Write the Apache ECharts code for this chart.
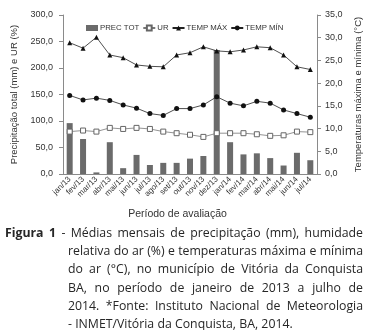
<!DOCTYPE html>
<html>
<head>
<meta charset="utf-8">
<script src="https://cdn.jsdelivr.net/npm/echarts@6/dist/echarts.min.js"></script>
<style>
  html, body { margin: 0; padding: 0; background: #fff; }
  #wrap { position: relative; width: 372px; height: 330px; overflow: hidden; }
  #chart { position: absolute; left: 0; top: 0; width: 372px; height: 330px; }
  #caption {
    position: absolute; left: 5px; top: 224px; width: 358px;
    font-family: "Open Sans", sans-serif; font-size: 12.3px; line-height: 18.2px;
    color: #262626;
  }
  #caption div { white-space: nowrap; text-align: justify; text-align-last: justify; padding-left: 63px; }
  #caption div.first { padding-left: 0; }
  #caption div.last { text-align-last: left; }
  #caption b { font-weight: 700; }
</style>
</head>
<body>
<div id="wrap">
  <div id="chart"></div>
  <div id="caption">
    <div class="first"><b>Figura 1</b> - Médias mensais de precipitação (mm), humidade</div>
    <div>relativa do ar (%) e temperaturas máxima e mínima</div>
    <div>do ar (°C), no município de Vitória da Conquista</div>
    <div>BA, no período de janeiro de 2013 a julho de</div>
    <div>2014. *Fonte: Instituto Nacional de Meteorologia</div>
    <div class="last">- INMET/Vitória da Conquista, BA, 2014.</div>
  </div>
</div>
<script>
// monthly series, jan/13 .. jul/14
const months = ["jan/13", "fev/13", "mar/13", "abr/13", "mai/13", "jun/13", "jul/13", "ago/13", "set/13", "out/13",
  "nov/13", "dez/13", "jan/14", "fev/14", "mar/14", "abr/14", "mai/14", "jun/14", "jul/14"];
const precTot = [96, 66, 3, 60, 11, 36, 17, 21, 21, 29, 34, 234, 60, 37, 39, 30, 16, 40, 26];
const ur = [80, 82, 80, 87, 85, 87, 85, 80, 77, 74, 70, 77, 77, 77, 75, 72, 73, 80, 79];
const tempMax = [28.9, 27.7, 30.1, 26.2, 25.6, 24.0, 23.7, 23.6, 26.2, 26.7, 28.0, 27.1, 26.9, 27.3, 28.0, 27.8, 26.2, 23.6, 23.0];
const tempMin = [17.3, 16.3, 16.7, 16.2, 15.2, 14.5, 13.3, 12.9, 14.4, 14.4, 15.2, 17.0, 15.6, 15.0, 16.0, 15.6, 14.1, 13.3, 12.5];

const chart = echarts.init(document.getElementById("chart"));

const axisColor = "#8a8a8a";
const textColor = "#333";
const font = "'Liberation Sans', Arial, sans-serif";
const fmt = (v) => v.toFixed(1).replace(".", ",");

chart.setOption({
  animation: false,
  textStyle: { fontFamily: font },
  grid: { left: 63, right: 55, top: 15, bottom: 156 },
  legend: {
    left: 81,
    top: 19,
    itemWidth: 12,
    itemHeight: 6,
    itemGap: 3,
    textStyle: { fontSize: 7.8, fontFamily: font, color: textColor, padding: [0, 0, 0, -3] },
    data: [
      { name: "PREC TOT", icon: "rect" },
      { name: "UR" },
      { name: "TEMP MÁX" },
      { name: "TEMP MÍN" },
    ],
  },
  xAxis: {
    type: "category",
    data: months,
    name: "Período de avaliação",
    nameLocation: "middle",
    nameGap: 35,
    nameTextStyle: { fontSize: 10.5, fontFamily: font, color: textColor, padding: [0, 25, 0, 0] },
    axisLine: { lineStyle: { color: axisColor } },
    axisTick: { length: 3, lineStyle: { color: axisColor } },
    axisLabel: { rotate: 45, fontSize: 8, fontFamily: font, color: textColor, margin: 4, interval: 0 },
  },
  yAxis: [
    {
      type: "value",
      min: 0,
      max: 300,
      interval: 50,
      name: "Precipitação total (mm) e UR (%)",
      nameLocation: "middle",
      nameGap: 41,
      nameTextStyle: { fontSize: 9.5, fontFamily: font, color: textColor },
      axisLine: { show: true, lineStyle: { color: axisColor } },
      axisTick: { show: true, length: 4, lineStyle: { color: axisColor } },
      axisLabel: { fontSize: 9, fontFamily: font, color: textColor, margin: 10, formatter: fmt },
      splitLine: { show: false },
    },
    {
      type: "value",
      min: 0,
      max: 35,
      interval: 5,
      name: "Temperaturas máxima e mínima (°C)",
      nameLocation: "middle",
      nameGap: 35,
      nameRotate: 90,
      nameTextStyle: { fontSize: 9.5, fontFamily: font, color: textColor },
      axisLine: { show: true, lineStyle: { color: axisColor } },
      axisTick: { show: true, length: 4, lineStyle: { color: axisColor } },
      axisLabel: { fontSize: 9, fontFamily: font, color: textColor, margin: 8, formatter: fmt },
      splitLine: { show: false },
    },
  ],
  series: [
    {
      name: "PREC TOT",
      type: "bar",
      data: precTot,
      barWidth: 6,
      itemStyle: { color: "#6b6b6b" },
    },
    {
      name: "UR",
      type: "line",
      data: ur,
      symbol: "rect",
      symbolSize: 5,
      lineStyle: { color: "#777", width: 0.8 },
      itemStyle: { color: "#fff", borderColor: "#666", borderWidth: 1 },
    },
    {
      name: "TEMP MÁX",
      type: "line",
      yAxisIndex: 1,
      data: tempMax,
      symbol: "triangle",
      symbolSize: 5,
      lineStyle: { color: "#222", width: 0.8 },
      itemStyle: { color: "#111" },
    },
    {
      name: "TEMP MÍN",
      type: "line",
      yAxisIndex: 1,
      data: tempMin,
      symbol: "circle",
      symbolSize: 5,
      lineStyle: { color: "#222", width: 0.8 },
      itemStyle: { color: "#111" },
    },
  ],
});
</script>
</body>
</html>
